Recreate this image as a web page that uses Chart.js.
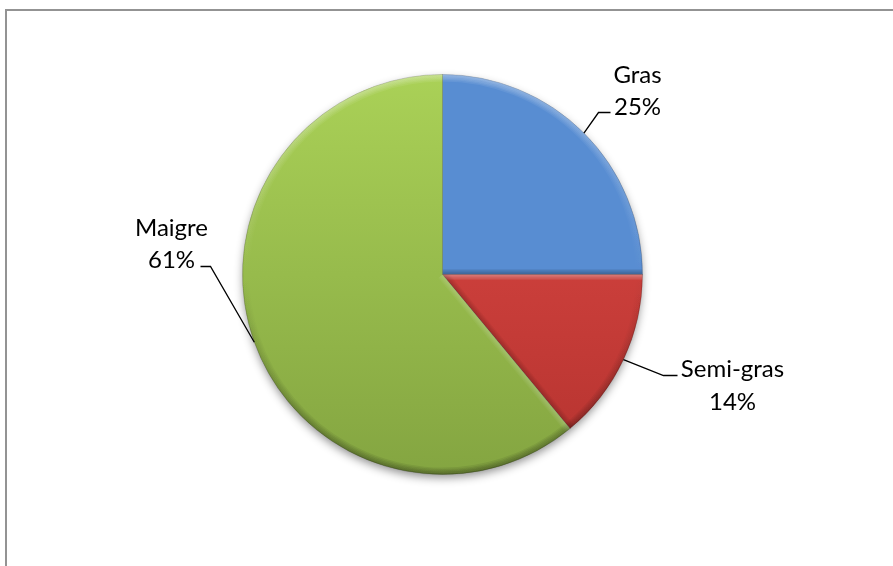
<!DOCTYPE html>
<html>
<head>
<meta charset="utf-8">
<script src="https://cdn.jsdelivr.net/npm/chart.js@4/dist/chart.umd.min.js"></script>
<style>
  html, body { margin: 0; padding: 0; background: #ffffff; overflow: hidden; }
  #wrap { position: relative; width: 893px; height: 566px; }
  #frame { position: absolute; left: 5px; top: 9px; width: 1000px; height: 700px;
           border-left: 2px solid #939393; border-top: 2px solid #939393; box-sizing: border-box; }
  canvas { position: absolute; left: 0; top: 0; }
</style>
</head>
<body>
<div id="wrap">
  <div id="frame"></div>
  <canvas id="c" width="893" height="566"></canvas>
</div>
<script>
// ---- data ----
const categories = ['Gras', 'Semi-gras', 'Maigre'];
const values = [25, 14, 61];

// ---- styles ----
const gradTop = ['#588DD2', '#E04A46', '#AAD157'];
const gradBottom = ['#4A7DC0', '#B5332F', '#84A541'];

// label layout, offsets (px) relative to the pie centre
const labelLayout = [
  { elbow: [156, -162], end: [168, -162], text: [195, -192, -160] },
  { elbow: [221, 101], end: [235, 101], text: [290, 102, 135] },
  { elbow: [-232, -8], end: [-242, -8], text: [-271, -39, -7] }
];

const total = values.reduce((a, b) => a + b, 0);
const pctLabels = values.map(v => Math.round(v / total * 100) + '%');

function sliceColor(context) {
  const chart = context.chart;
  const i = context.dataIndex;
  const meta = chart.getDatasetMeta(0);
  const arc = meta.data[0];
  if (!arc || !arc.outerRadius) return gradTop[i];
  const cy = arc.y, r = arc.outerRadius;
  const g = chart.ctx.createLinearGradient(0, cy - r, 0, cy + r);
  g.addColorStop(0, gradTop[i]);
  g.addColorStop(1, gradBottom[i]);
  return g;
}

const shadowPlugin = {
  id: 'pieShadow',
  beforeDatasetsDraw(chart) {
    const arc = chart.getDatasetMeta(0).data[0];
    if (!arc) return;
    const ctx = chart.ctx;
    ctx.save();
    ctx.shadowColor = 'rgba(0,0,0,0.45)';
    ctx.shadowBlur = 10;
    ctx.shadowOffsetY = 4;
    ctx.fillStyle = '#ffffff';
    ctx.beginPath();
    ctx.arc(arc.x, arc.y, arc.outerRadius - 1, 0, Math.PI * 2);
    ctx.fill();
    ctx.restore();
  }
};

const bevelPlugin = {
  id: 'bevel',
  afterDatasetsDraw(chart) {
    const ctx = chart.ctx;
    const bw = 7, steps = 5;
    chart.getDatasetMeta(0).data.forEach(arc => {
      const cx = arc.x, cy = arc.y, r = arc.outerRadius;
      const sa = arc.startAngle, ea = arc.endAngle;
      ctx.save();
      ctx.beginPath();
      ctx.moveTo(cx, cy);
      ctx.arc(cx, cy, r, sa, ea);
      ctx.closePath();
      ctx.clip();
      for (let k = steps; k >= 1; k--) {
        const w = 2 * bw * k / steps;
        const f = 1 / steps;
        // rim
        const g = ctx.createLinearGradient(0, cy - r, 0, cy + r);
        g.addColorStop(0, 'rgba(255,255,255,' + (0.4 * f) + ')');
        g.addColorStop(0.5, 'rgba(255,255,255,0)');
        g.addColorStop(0.5, 'rgba(0,0,0,0)');
        g.addColorStop(1, 'rgba(0,0,0,' + (0.4 * f) + ')');
        ctx.lineWidth = w;
        ctx.strokeStyle = g;
        ctx.beginPath();
        ctx.arc(cx, cy, r, sa, ea);
        ctx.stroke();
        // radial edges
        [[sa, 1], [ea, -1]].forEach(([a, sgn]) => {
          const s = Math.cos(a) * sgn;
          ctx.strokeStyle = s > 0 ? 'rgba(255,255,255,' + (0.35 * s * f) + ')' : 'rgba(0,0,0,' + (0.3 * -s * f) + ')';
          ctx.lineWidth = w * 0.8;
          ctx.beginPath();
          ctx.moveTo(cx, cy);
          ctx.lineTo(cx + r * Math.cos(a), cy + r * Math.sin(a));
          ctx.stroke();
        });
      }
      ctx.restore();
    });
  }
};

const labelPlugin = {
  id: 'outLabels',
  afterDraw(chart) {
    const ctx = chart.ctx;
    const arcs = chart.getDatasetMeta(0).data;
    ctx.save();
    arcs.forEach((arc, i) => {
      const cx = arc.x, cy = arc.y, r = arc.outerRadius;
      const mid = (arc.startAngle + arc.endAngle) / 2;
      const ax = cx + r * Math.cos(mid), ay = cy + r * Math.sin(mid);
      const L = labelLayout[i];
      ctx.strokeStyle = '#000000';
      ctx.lineWidth = 1.3;
      ctx.beginPath();
      ctx.moveTo(ax, ay);
      ctx.lineTo(cx + L.elbow[0], cy + L.elbow[1]);
      ctx.lineTo(cx + L.end[0], cy + L.end[1]);
      ctx.stroke();
      ctx.fillStyle = '#000000';
      ctx.font = '24px Lato';
      ctx.textAlign = 'center';
      ctx.textBaseline = 'alphabetic';
      ctx.fillText(categories[i], cx + L.text[0], cy + L.text[1]);
      ctx.fillText(pctLabels[i], cx + L.text[0], cy + L.text[2]);
    });
    ctx.restore();
  }
};

new Chart(document.getElementById('c'), {
  type: 'pie',
  data: {
    labels: categories,
    datasets: [{
      data: values,
      backgroundColor: sliceColor,
      borderColor: 'rgba(0,0,0,0.18)',
      borderWidth: 1
    }]
  },
  options: {
    responsive: false,
    animation: false,
    layout: { padding: { left: 242, right: 250, top: 74, bottom: 91 } },
    plugins: { legend: { display: false }, tooltip: { enabled: false } }
  },
  plugins: [shadowPlugin, bevelPlugin, labelPlugin]
});
</script>
</body>
</html>
